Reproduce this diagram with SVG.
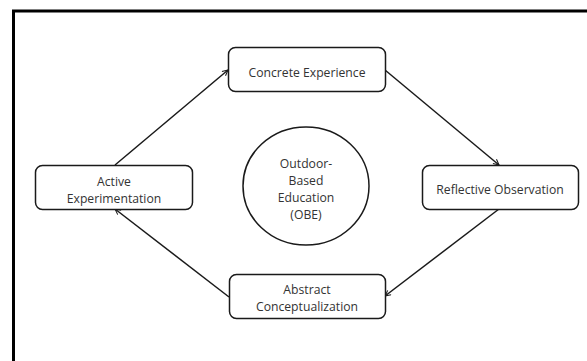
<svg xmlns="http://www.w3.org/2000/svg" width="587" height="361" viewBox="0 0 587 361">
<style>
.box{fill:#fff;stroke:#1a1a1a;stroke-width:1.5}
.t{font-family:"Open Sans","Liberation Sans",sans-serif;font-size:12.2px;fill:#333;text-anchor:middle}
.c{stroke:#1a1a1a;stroke-width:1.5;fill:none;marker-end:url(#ah)}
</style>
<defs>
<marker id="ah" viewBox="0 0 10 10" refX="9" refY="5" markerWidth="7" markerHeight="7" orient="auto" markerUnits="userSpaceOnUse">
<path d="M1,1 L9,5 L1,9" fill="none" stroke="#1a1a1a" stroke-width="1.5"/>
</marker>
</defs>
<rect x="0" y="0" width="587" height="361" fill="#fff"/>
<path d="M13.5,363 V11 H590" fill="none" stroke="#000" stroke-width="3"/>
<g id="connectors">
<line class="c" x1="115" y1="165" x2="228" y2="70"/>
<line class="c" x1="385" y1="70" x2="499" y2="165"/>
<line class="c" x1="499" y1="209" x2="385" y2="296"/>
<line class="c" x1="229" y1="297" x2="115" y2="209"/>
</g>
<g id="concrete">
<rect class="box" x="228.5" y="47.5" width="157" height="44" rx="7"/>
<text class="t" x="307" y="77">Concrete Experience</text>
</g>
<g id="active">
<rect class="box" x="35.5" y="165.5" width="157" height="44" rx="7"/>
<text class="t" x="114" y="185.5">Active</text>
<text class="t" x="114" y="202.5">Experimentation</text>
</g>
<g id="reflective">
<rect class="box" x="422.5" y="165.5" width="156" height="44" rx="7"/>
<text class="t" x="500" y="194">Reflective Observation</text>
</g>
<g id="abstract">
<rect class="box" x="229.5" y="274.5" width="156" height="44" rx="7"/>
<text class="t" x="307" y="294">Abstract</text>
<text class="t" x="307" y="311">Conceptualization</text>
</g>
<g id="obe">
<ellipse class="box" cx="306" cy="186" rx="63" ry="59"/>
<text class="t" x="306" y="168">Outdoor-</text>
<text class="t" x="306" y="185">Based</text>
<text class="t" x="306" y="202">Education</text>
<text class="t" x="306" y="219">(OBE)</text>
</g>
</svg>
